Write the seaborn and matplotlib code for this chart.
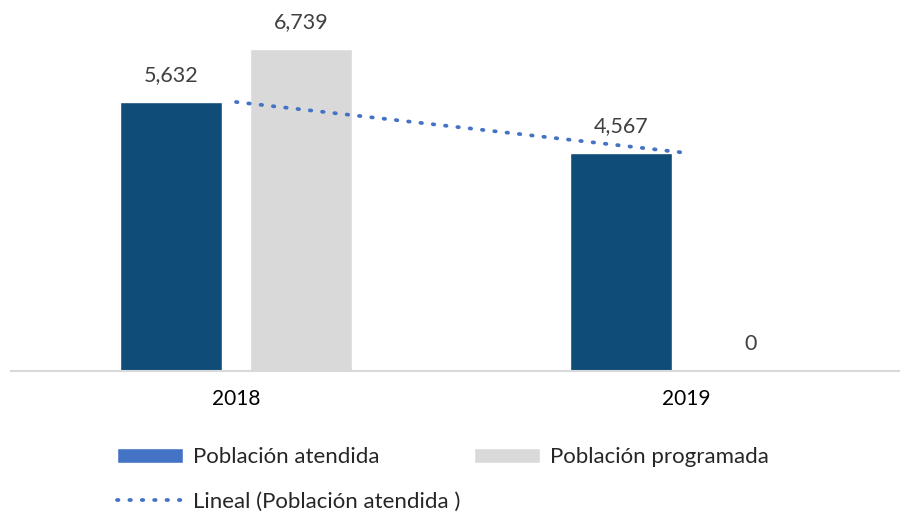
import matplotlib
matplotlib.use("Agg")
import matplotlib.pyplot as plt
import numpy as np
import pandas as pd
import seaborn as sns
from matplotlib.patches import Patch
from matplotlib.lines import Line2D

years = ["2018", "2019"]
atendida = [5632, 4567]
programada = [6739, 0]
series = ["Población atendida", "Población programada"]

df = pd.DataFrame({
    "year": years * 2,
    "serie": [series[0]] * 2 + [series[1]] * 2,
    "valor": atendida + programada,
})

sns.set_style("white")
plt.rcParams['font.family'] = ['Lato', 'DejaVu Sans']

fig = plt.figure(figsize=(9, 5.12), dpi=100)
ax = fig.add_axes([11 / 900, 141 / 512, 900 / 900, 371 / 512])

bar_colors = {series[0]: "#0F4D78", series[1]: "#D9D9D9"}
sns.barplot(data=df, x="year", y="valor", hue="serie", palette=bar_colors,
            width=0.576, gap=0.21, ax=ax, legend=False, saturation=1)

for cont in ax.containers:
    ax.bar_label(cont, labels=[f"{v:,.0f}" for v in cont.datavalues],
                 padding=12, fontsize=15.5, color="#404040")

# linear trend of atendida
dots = (0, (0.4, 2.9))
xs = np.arange(len(years))
k, b = np.polyfit(xs, atendida, 1)
ax.plot(xs, k * xs + b, linestyle=dots, color="#4472C4",
        linewidth=2.7, dash_capstyle="round")

ax.set_xlim(-0.5, 1.5)
ax.set_ylim(0, 7768)
ax.set_yticks([])
ax.set_xlabel("")
ax.set_ylabel("")
ax.tick_params(axis="x", length=0, labelsize=15, colors="#000000", pad=13)
for s in ["top", "left", "right"]:
    ax.spines[s].set_visible(False)
ax.spines["bottom"].set_color("#D9D9D9")
ax.spines["bottom"].set_linewidth(1.5)

handles = [
    Patch(facecolor="#4472C4", label="Población atendida"),
    Line2D([0], [0], color="#4472C4", linestyle=dots, linewidth=2.7,
           dash_capstyle="round", label="Lineal (Población atendida )"),
    Patch(facecolor="#D9D9D9", label="Población programada"),
]
fig.legend(handles=handles, ncol=2, loc="upper left",
           bbox_to_anchor=(117 / 900, 1 - 447 / 512), frameon=False, borderpad=0,
           borderaxespad=0, fontsize=16, handlelength=2.97, handleheight=0.68,
           handletextpad=0.45, columnspacing=0.6, labelspacing=1.1,
           labelcolor="#262626")

fig.savefig("out.png", dpi=100)
